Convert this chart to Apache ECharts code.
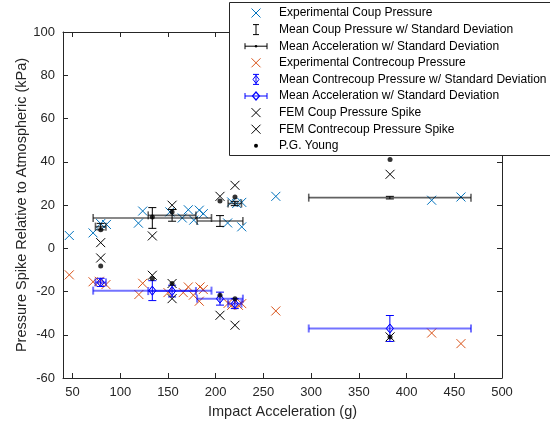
<!DOCTYPE html>
<html>
<head>
<meta charset="utf-8">
<script src="https://cdn.jsdelivr.net/npm/echarts@6/dist/echarts.min.js"></script>
<style>
html,body{margin:0;padding:0;background:#fff;}
#chart{width:550px;height:425px;}
</style>
</head>
<body>
<div id="chart"></div>
<script>
// ---- Data ----
const xTicks = [50, 100, 150, 200, 250, 300, 350, 400, 450, 500];
const yTicks = [-60, -40, -20, 0, 20, 40, 60, 80, 100];

const expCoupAccel = [46.6, 71.5, 79.5, 85.5, 119, 123.5, 152, 165, 171.3, 177, 182.8, 187, 212.5, 216.8, 222, 227.3, 227.3, 263, 426.3, 457];
const expCoup      = [5.9, 7.1, 11.4, 11.0, 11.6, 17.2, 16.8, 14.0, 17.8, 13.0, 17.6, 16.0, 11.7, 21.4, 20.7, 21.2, 9.9, 24.0, 22.2, 23.7];

const expCcAccel   = [46.6, 71.5, 78, 85, 119.5, 123.5, 150, 166, 171.3, 176.6, 182.8, 183.6, 187, 213, 216.8, 223.8, 227.3, 263, 426.3, 457];
const expContrecoup= [-12.3, -15.5, -15.3, -16.8, -21.4, -16.2, -20.5, -20.5, -17.9, -21.7, -24.5, -17.9, -19.1, -25.5, -26.4, -26.4, -25.6, -29.0, -39.2, -44.1];

const meanAccel      = [79.5, 133.6, 154.3, 204.5, 220, 382.5];
const accelSD        = [5.5, 62, 25, 24, 7, 85];
const meanCoup       = [10.0, 14.0, 15.2, 12.6, 20.7, 23.4];
const coupSD         = [1.5, 4.8, 2.7, 2.5, 1.0, 0.6];
const meanContrecoup = [-15.8, -19.6, -19.8, -23.3, -25.6, -37.1];
const contrecoupSD   = [1.9, 4.6, 2.7, 3.0, 2.3, 6.0];

const femCoupAccel = [79.5, 133.6, 154.3, 204.5, 220.2, 382.7];
const femCoup      = [2.6, 5.7, 19.9, 24.0, 29.1, 34.2];
const femCcAccel   = [79.5, 133.6, 154.3, 154.3, 204.5, 220.2, 382.7];
const femContrecoup= [-4.5, -12.5, -16.3, -23.3, -31.0, -35.6, -41.0];

const youngAccel = [79.5, 133.6, 154.3, 204.5, 220.2, 382.7, 79.5, 133.6, 154.3, 204.5, 220.2, 382.7];
const youngPress = [8.6, 14.5, 16.8, 21.9, 23.7, 41.0, -8.2, -14.0, -16.3, -21.7, -23.3, -41.0];

const legendLabels = [
  'Experimental Coup Pressure',
  'Mean Coup Pressure w/ Standard Deviation',
  'Mean Acceleration w/ Standard Deviation',
  'Experimental Contrecoup Pressure',
  'Mean Contrecoup Pressure w/ Standard Deviation',
  'Mean Acceleration w/ Standard Deviation',
  'FEM Coup Pressure Spike',
  'FEM Contrecoup Pressure Spike',
  'P.G. Young'
];

// ---- Styles ----
const FONT = 'Liberation Sans, Arial, Helvetica, sans-serif';
const AX = '#262626';
const BLUE = '#0072BD';
const ORANGE = '#D95319';
const HBLACK = 'rgba(0,0,0,0.62)';
const HBLUE = 'rgba(0,0,255,0.55)';
const VBLUE = '#0000FF';

const zip = (a, b, c) => a.map((v, i) => c ? [v, b[i], c[i]] : [v, b[i]]);

function xMarker(color, s) {
  return function (params, api) {
    const p = api.coord([api.value(0), api.value(1)]);
    return {type: 'group', children: [
      {type: 'line', shape: {x1: p[0]-s, y1: p[1]-s, x2: p[0]+s, y2: p[1]+s}, style: {stroke: color, lineWidth: 1}},
      {type: 'line', shape: {x1: p[0]-s, y1: p[1]+s, x2: p[0]+s, y2: p[1]-s}, style: {stroke: color, lineWidth: 1}}
    ]};
  };
}
function diamond(cx, cy, color) {
  return {type: 'polygon', shape: {points: [[cx, cy-4.5], [cx+3.5, cy], [cx, cy+4.5], [cx-3.5, cy]]},
          style: {stroke: color, fill: 'none', lineWidth: 1}};
}
function vErr(color, lw, withDiamond) {
  return function (params, api) {
    const x = api.value(0), y = api.value(1), e = api.value(2);
    const a = api.coord([x, y - e]), b = api.coord([x, y + e]), c = api.coord([x, y]);
    const w = 4;
    const ch = [
      {type: 'line', shape: {x1: a[0], y1: a[1], x2: b[0], y2: b[1]}, style: {stroke: color, lineWidth: lw}},
      {type: 'line', shape: {x1: a[0]-w, y1: a[1], x2: a[0]+w, y2: a[1]}, style: {stroke: color, lineWidth: lw}},
      {type: 'line', shape: {x1: b[0]-w, y1: b[1], x2: b[0]+w, y2: b[1]}, style: {stroke: color, lineWidth: lw}}
    ];
    if (withDiamond) ch.push(diamond(c[0], c[1], color));
    return {type: 'group', children: ch};
  };
}
function hErr(color, lw, withDiamond) {
  return function (params, api) {
    const x = api.value(0), y = api.value(1), e = api.value(2);
    const a = api.coord([x - e, y]), b = api.coord([x + e, y]), c = api.coord([x, y]);
    const h = 4;
    const ch = [
      {type: 'line', shape: {x1: a[0], y1: a[1], x2: b[0], y2: b[1]}, style: {stroke: color, lineWidth: lw}},
      {type: 'line', shape: {x1: a[0], y1: a[1]-h, x2: a[0], y2: a[1]+h}, style: {stroke: color, lineWidth: lw}},
      {type: 'line', shape: {x1: b[0], y1: b[1]-h, x2: b[0], y2: b[1]+h}, style: {stroke: color, lineWidth: lw}}
    ];
    if (withDiamond) ch.push(diamond(c[0], c[1], color));
    return {type: 'group', children: ch};
  };
}

const chart = echarts.init(document.getElementById('chart'), null, {renderer: 'canvas'});

const axisCommon = {
  type: 'value',
  axisLine: {show: true, onZero: false, lineStyle: {color: AX, width: 1}},
  splitLine: {show: false},
  nameMoveOverlap: false
};

// ---- Legend (drawn as graphic, pixel layout only) ----
const LX = 256, TX = 279, R0 = 13, RS = 16.6;
const lg = [];
lg.push({type: 'rect', shape: {x: 229.5, y: 2.5, width: 340, height: 153}, style: {fill: '#fff', stroke: AX, lineWidth: 1}});
function lgX(y, color) {
  return [
    {type: 'line', shape: {x1: LX-4.5, y1: y-4.5, x2: LX+4.5, y2: y+4.5}, style: {stroke: color, lineWidth: 1}},
    {type: 'line', shape: {x1: LX-4.5, y1: y+4.5, x2: LX+4.5, y2: y-4.5}, style: {stroke: color, lineWidth: 1}}
  ];
}
function lgV(y, color, dia) {
  const a = [
    {type: 'line', shape: {x1: LX, y1: y-5, x2: LX, y2: y+5}, style: {stroke: color, lineWidth: 1}},
    {type: 'line', shape: {x1: LX-3, y1: y-5, x2: LX+3, y2: y-5}, style: {stroke: color, lineWidth: 1}},
    {type: 'line', shape: {x1: LX-3, y1: y+5, x2: LX+3, y2: y+5}, style: {stroke: color, lineWidth: 1}}
  ];
  if (dia) a.push({type: 'polygon', shape: {points: [[LX, y-4], [LX+3, y], [LX, y+4], [LX-3, y]]}, style: {stroke: color, fill: 'none', lineWidth: 1}});
  return a;
}
function lgH(y, color, dia) {
  const a = [
    {type: 'line', shape: {x1: LX-11, y1: y, x2: LX+11, y2: y}, style: {stroke: color, lineWidth: 1}},
    {type: 'line', shape: {x1: LX-11, y1: y-3, x2: LX-11, y2: y+3}, style: {stroke: color, lineWidth: 1}},
    {type: 'line', shape: {x1: LX+11, y1: y-3, x2: LX+11, y2: y+3}, style: {stroke: color, lineWidth: 1}}
  ];
  if (dia) a.push({type: 'polygon', shape: {points: [[LX, y-4], [LX+3.5, y], [LX, y+4], [LX-3.5, y]]}, style: {stroke: color, fill: 'none', lineWidth: 1.2}});
  else a.push({type: 'circle', shape: {cx: LX, cy: y, r: 1.2}, style: {fill: color}});
  return a;
}
const ry = i => R0 + i * RS;
lg.push(...lgX(ry(0), BLUE));
lg.push(...lgV(ry(1), '#000', false));
lg.push(...lgH(ry(2), '#000', false));
lg.push(...lgX(ry(3), ORANGE));
lg.push(...lgV(ry(4), VBLUE, true));
lg.push(...lgH(ry(5), VBLUE, true));
lg.push(...lgX(ry(6), '#000'));
lg.push(...lgX(ry(7), '#000'));
lg.push({type: 'circle', shape: {cx: LX, cy: ry(8), r: 2}, style: {fill: '#000'}});
legendLabels.forEach((t, i) => {
  lg.push({type: 'text', x: TX, y: ry(i), style: {text: t, fill: '#000', font: '12px ' + FONT, textVerticalAlign: 'middle', textAlign: 'left'}});
});
lg.forEach(el => { el.z = 100; el.zlevel = 1; });

const option = {
  animation: false,
  backgroundColor: '#fff',
  textStyle: {fontFamily: FONT},
  grid: {left: 63, right: 48, top: 32, bottom: 47, containLabel: false},
  xAxis: [
    Object.assign({}, axisCommon, {
      position: 'bottom', min: 40, max: 500,
      name: 'Impact Acceleration (g)', nameLocation: 'middle', nameGap: 26,
      nameTextStyle: {color: AX, fontSize: 14.5, fontFamily: FONT},
      axisTick: {show: true, inside: true, length: 5, customValues: xTicks, lineStyle: {color: AX}},
      axisLabel: {show: true, customValues: xTicks, color: AX, fontSize: 13, fontFamily: FONT, margin: 8}
    }),
    Object.assign({}, axisCommon, {
      position: 'top', min: 40, max: 500,
      axisTick: {show: true, inside: true, length: 5, customValues: xTicks, lineStyle: {color: AX}},
      axisLabel: {show: false}
    })
  ],
  yAxis: [
    Object.assign({}, axisCommon, {
      position: 'left', min: -60, max: 100, interval: 20,
      name: 'Pressure Spike Relative to Atmospheric (kPa)', nameLocation: 'middle', nameGap: 34,
      nameTextStyle: {color: AX, fontSize: 14.5, fontFamily: FONT},
      axisTick: {show: true, inside: true, length: 5, lineStyle: {color: AX}},
      axisLabel: {show: true, color: AX, fontSize: 13, fontFamily: FONT, margin: 8}
    }),
    Object.assign({}, axisCommon, {
      position: 'right', min: -60, max: 100, interval: 20,
      axisTick: {show: true, inside: true, length: 5, lineStyle: {color: AX}},
      axisLabel: {show: false}
    })
  ],
  series: [
    {type: 'custom', name: 'Experimental Coup Pressure', renderItem: xMarker(BLUE, 4.5), encode: {x: 0, y: 1}, data: zip(expCoupAccel, expCoup)},
    {type: 'custom', name: 'Mean Acceleration (coup)', renderItem: hErr(HBLACK, 1.6, false), encode: {x: 0, y: 1}, data: zip(meanAccel, meanCoup, accelSD)},
    {type: 'custom', name: 'Mean Coup Pressure', renderItem: vErr('#000', 1, false), encode: {x: 0, y: 1}, data: zip(meanAccel, meanCoup, coupSD)},
    {type: 'custom', name: 'Experimental Contrecoup Pressure', renderItem: xMarker(ORANGE, 4.5), encode: {x: 0, y: 1}, data: zip(expCcAccel, expContrecoup)},
    {type: 'custom', name: 'Mean Acceleration (contrecoup)', renderItem: hErr(HBLUE, 2, true), encode: {x: 0, y: 1}, data: zip(meanAccel, meanContrecoup, accelSD)},
    {type: 'custom', name: 'Mean Contrecoup Pressure', renderItem: vErr(VBLUE, 1, true), encode: {x: 0, y: 1}, data: zip(meanAccel, meanContrecoup, contrecoupSD)},
    {type: 'custom', name: 'FEM Coup Pressure Spike', renderItem: xMarker('#000', 4.5), encode: {x: 0, y: 1}, data: zip(femCoupAccel, femCoup)},
    {type: 'custom', name: 'FEM Contrecoup Pressure Spike', renderItem: xMarker('#000', 4.5), encode: {x: 0, y: 1}, data: zip(femCcAccel, femContrecoup)},
    {type: 'scatter', name: 'P.G. Young', symbol: 'circle', symbolSize: 5, itemStyle: {color: '#000'}, data: zip(youngAccel, youngPress)}
  ],
  graphic: lg
};
chart.setOption(option);
</script>
</body>
</html>
